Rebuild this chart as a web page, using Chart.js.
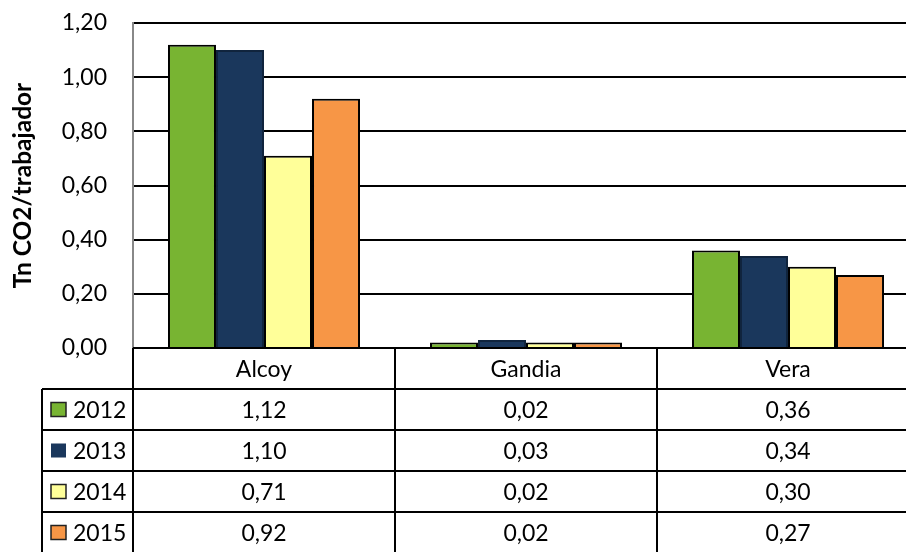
<!DOCTYPE html>
<html>
<head>
<meta charset="utf-8">
<script src="https://cdn.jsdelivr.net/npm/chart.js@4/dist/chart.umd.min.js"></script>
<style>
  html, body { margin: 0; padding: 0; overflow: hidden; background: #fff; }
  #wrap { width: 919px; height: 552px; }
</style>
</head>
<body>
<div id="wrap"><canvas id="c" width="919" height="552"></canvas></div>
<script>
const categories = ['Alcoy', 'Gandia', 'Vera'];
const seriesNames = ['2012', '2013', '2014', '2015'];
const v2012 = [1.12, 0.02, 0.36];
const v2013 = [1.10, 0.03, 0.34];
const v2014 = [0.71, 0.02, 0.30];
const v2015 = [0.92, 0.02, 0.27];
const yTicks = [0, 0.2, 0.4, 0.6, 0.8, 1.0, 1.2];
const yTitle = 'Tn CO2/trabajador';

const seriesValues = [v2012, v2013, v2014, v2015];
const colors = ['#78B432', '#1A375C', '#FFFF99', '#F79646'];
const borders = ['#000000', '#10243D', '#000000', '#000000'];
const FONT = 'Lato, "Open Sans", sans-serif';

function fmt(v) { return v.toFixed(2).replace('.', ','); }

const tablePlugin = {
  id: 'dataTable',
  afterDraw(chart) {
    const ctx = chart.ctx;
    const area = chart.chartArea;
    const xs = chart.scales.x;
    const n = categories.length;
    const catW = (area.right - area.left) / n;
    const top = area.bottom;
    const headerH = 41;
    const rowH = 41;
    const legendLeft = 42;
    const W = chart.width;
    const H = chart.height;
    ctx.save();
    ctx.strokeStyle = '#000';
    ctx.lineWidth = 2;
    ctx.beginPath();
    ctx.moveTo(area.left, top);
    ctx.lineTo(W, top);
    for (let r = 0; r < seriesNames.length; r++) {
      const y = top + headerH + r * rowH;
      ctx.moveTo(legendLeft, y);
      ctx.lineTo(W, y);
    }
    ctx.moveTo(legendLeft, top + headerH);
    ctx.lineTo(legendLeft, H);
    for (let i = 0; i < n; i++) {
      const x = area.left + i * catW;
      ctx.moveTo(x, top);
      ctx.lineTo(x, H);
    }
    ctx.stroke();

    ctx.fillStyle = '#000';
    ctx.font = '23px ' + FONT;
    ctx.textBaseline = 'middle';
    ctx.textAlign = 'center';
    for (let i = 0; i < n; i++) {
      const cx = xs.getPixelForValue(i);
      ctx.fillText(categories[i], cx, top + headerH / 2 + 1);
      for (let r = 0; r < seriesNames.length; r++) {
        const y = top + headerH + r * rowH + rowH / 2 + 1;
        ctx.fillText(fmt(seriesValues[r][i]), cx, y);
      }
    }
    ctx.textAlign = 'left';
    for (let r = 0; r < seriesNames.length; r++) {
      const yc = top + headerH + r * rowH + rowH / 2;
      ctx.fillStyle = colors[r];
      ctx.fillRect(51, yc - 7, 15, 14);
      if (r !== 1) {
        ctx.lineWidth = 1.5;
        ctx.strokeStyle = '#222';
        ctx.strokeRect(51, yc - 7, 15, 14);
      }
      ctx.fillStyle = '#000';
      ctx.fillText(seriesNames[r], 73, yc + 1);
    }
    ctx.restore();
  }
};

new Chart(document.getElementById('c'), {
  type: 'bar',
  data: {
    labels: categories,
    datasets: seriesNames.map((name, i) => ({
      label: name,
      data: seriesValues[i],
      backgroundColor: colors[i],
      borderColor: borders[i],
      borderWidth: 2,
      categoryPercentage: 0.733,
      barPercentage: 1.0
    }))
  },
  options: {
    responsive: false,
    animation: false,
    devicePixelRatio: 1,
    layout: { padding: { top: 23, right: 0, bottom: 204, left: 0 } },
    plugins: { legend: { display: false }, tooltip: { enabled: false } },
    scales: {
      x: { display: false },
      y: {
        min: 0, max: 1.2,
        afterBuildTicks(scale) { scale.ticks = yTicks.map(v => ({ value: v })); },
        afterFit(scale) { scale.width = 133; scale.paddingTop = 0; scale.paddingBottom = 0; },
        ticks: {
          padding: 26,
          color: '#000',
          font: { family: FONT, size: 23 },
          callback: (v) => fmt(v)
        },
        grid: { color: '#000', lineWidth: 2, drawTicks: false },
        border: { display: true, color: '#888', width: 2 },
        title: {
          display: true,
          text: yTitle,
          color: '#000',
          font: { family: FONT, size: 24.5, weight: 'bold' },
          padding: { top: 8, bottom: 0 }
        }
      }
    }
  },
  plugins: [tablePlugin]
});
</script>
</body>
</html>
